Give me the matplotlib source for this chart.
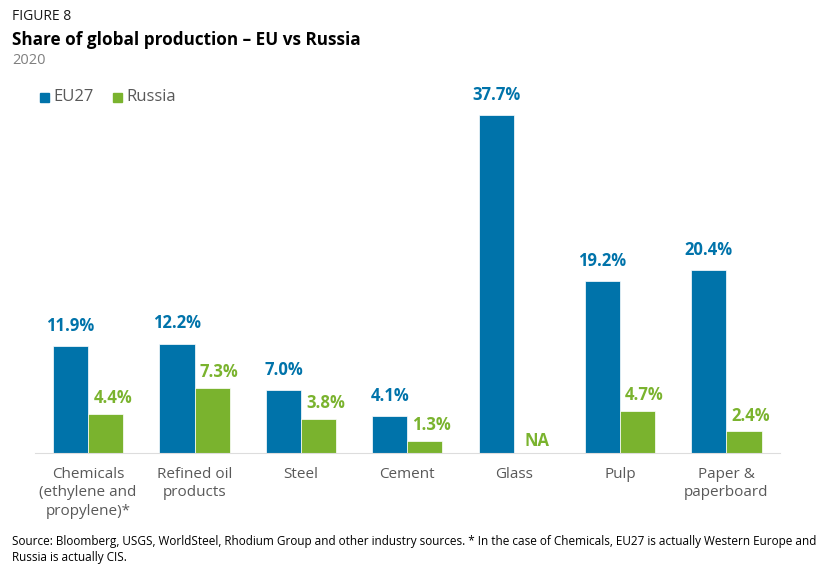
import matplotlib
matplotlib.use("Agg")
import matplotlib.pyplot as plt
from matplotlib.patches import Rectangle
import numpy as np

categories = ["Chemicals\n(ethylene and\npropylene)*", "Refined oil\nproducts", "Steel", "Cement",
              "Glass", "Pulp", "Paper &\npaperboard"]
eu27 = [11.9, 12.2, 7.0, 4.1, 37.7, 19.2, 20.4]
russia = [4.4, 7.3, 3.8, 1.3, None, 4.7, 2.4]
series_names = ["EU27", "Russia"]

BLUE = "#0073AA"
GREEN = "#7AB32E"
GRAY = "#595959"

plt.rcParams['font.family'] = ['Open Sans', 'DejaVu Sans']

fig = plt.figure(figsize=(8.33, 5.76), dpi=100)
ax = fig.add_axes([0.042, 0.2135, 0.894, 0.613])

x = np.arange(len(categories))
w = 0.33
ax.bar(x - w/2, eu27, width=w, color=BLUE, edgecolor="white", linewidth=0.5)
rv = [v if v is not None else 0 for v in russia]
ax.bar(x + w/2, rv, width=w, color=GREEN, edgecolor="white", linewidth=0.5)

for i, v in enumerate(eu27):
    ax.annotate(f"{v:.1f}%", (x[i] - w/2, v), xytext=(0, 8), textcoords="offset points",
                ha="center", va="bottom", color=BLUE, fontsize=12, fontweight="bold")
for i, v in enumerate(russia):
    if v is None:
        ax.annotate("NA", (x[i] + w/2, 0), xytext=(4, 2), textcoords="offset points",
                    ha="center", va="bottom", color=GREEN, fontsize=12, fontweight="bold")
    else:
        ax.annotate(f"{v:.1f}%", (x[i] + w/2, v), xytext=(5, 5), textcoords="offset points",
                    ha="center", va="bottom", color=GREEN, fontsize=12, fontweight="bold")

ax.set_xlim(-0.5, len(categories) - 0.5)
ax.set_ylim(0, 39.35)
for s in ["top", "right", "left"]:
    ax.spines[s].set_visible(False)
ax.spines["bottom"].set_color("#dddddd")
ax.set_yticks([])
ax.set_xticks(x)
ax.set_xticklabels(categories, fontsize=11, color=GRAY, linespacing=1.3)
ax.tick_params(axis="x", length=0, pad=10)

fig.text(12/833, 1 - 17/576, "FIGURE 8", fontsize=10, color="#1a1a1a", va="center", ha="left")
fig.text(12/833, 1 - 40/576, "Share of global production – EU vs Russia", fontsize=12.3,
         fontweight="bold", color="black", va="center", ha="left")
fig.text(12/833, 1 - 61/576, "2020", fontsize=10.5, color="#7f7f7f", va="center", ha="left")

# legend
for name, col, lx in [(series_names[0], BLUE, 40), (series_names[1], GREEN, 113)]:
    fig.patches.append(Rectangle((lx/833, 1 - 102/576), 9/833, 9/576, transform=fig.transFigure,
                                 color=col, figure=fig))
    fig.text((lx + 13)/833, 1 - 97/576, name, fontsize=12, color=GRAY, va="center", ha="left")

fig.text(12/833, 1 - 541/576,
         "Source: Bloomberg, USGS, WorldSteel, Rhodium Group and other industry sources. * In the case of Chemicals, EU27 is actually Western Europe and",
         fontsize=8.5, color="black", va="center", ha="left")
fig.text(12/833, 1 - 557/576, "Russia is actually CIS.",
         fontsize=8.5, color="black", va="center", ha="left")

fig.savefig("out.png", dpi=100)
